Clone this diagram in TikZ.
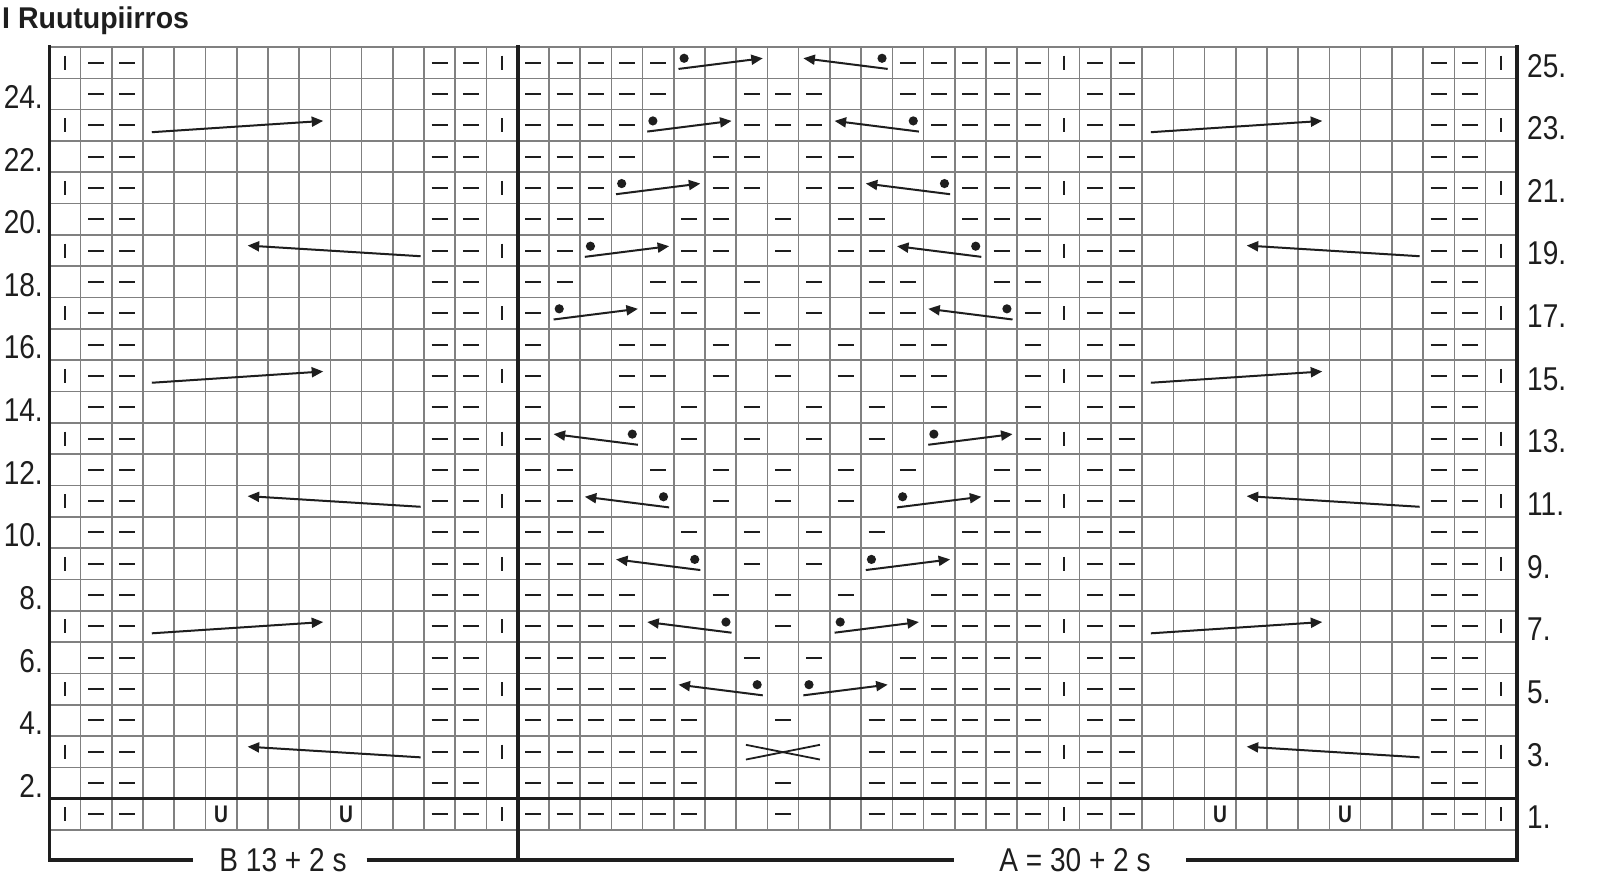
\documentclass[tikz,border=0pt]{standalone}
\usepackage{fontspec}
\setmainfont{Liberation Sans}
\usetikzlibrary{arrows.meta}
\definecolor{gridgray}{RGB}{128,128,128}
\definecolor{ink}{RGB}{30,30,30}
\newcommand{\narrowtxt}[2][0.85]{\scalebox{#1}[1]{#2}}
\begin{document}
\begin{tikzpicture}[x=1pt,y=-1pt,
  gridline/.style={draw=gridgray,line width=1.6pt},
  heavyline/.style={draw=ink,line width=3.6pt},
  dashsym/.style={draw=ink,line width=2pt},
  barsym/.style={draw=ink,line width=1.7pt},
  cablearrow/.style={draw=ink,line width=2pt,-{Triangle[length=11.5pt,width=10pt]}},
  crossline/.style={draw=ink,line width=1.8pt},
  knotdot/.style={fill=ink},
  numlabel/.style={font=\fontsize{33}{33}\selectfont,inner sep=0pt,text=ink},
  usym/.style={font=\fontsize{24}{24}\selectfont\bfseries,inner sep=0pt,text=ink},
]
\def\X{49.4}\def\W{31.22}\def\Y{47}\def\H{31.32}
\useasboundingbox (0,0) rectangle (1600,894);
\fill[white] (0,0) rectangle (1600,894);
% thin grid
\foreach \c in {0,...,47} \draw[gridline] ({\X+\c*\W},\Y) -- ({\X+\c*\W},{\Y+25*\H});
\foreach \r in {0,...,25} \draw[gridline] (\X,{\Y+\r*\H}) -- ({\X+47*\W},{\Y+\r*\H});
% title
\node[anchor=base west,inner sep=0pt,font=\fontsize{30}{30}\selectfont\bfseries,text=ink] (title) at (2,28) {\narrowtxt[0.95]{I Ruutupiirros}};
% bottom labels
\node[numlabel] (blab) at (283,860) {\narrowtxt{B 13 + 2 s}};
\node[numlabel] (alab) at (1075,860) {\narrowtxt{A = 30 + 2 s}};
% heavy frame lines
\coordinate (tl) at (\X,45);
\coordinate (bl) at (\X,860);
\coordinate (tm) at ({\X+15*\W},45);
\coordinate (bm) at ({\X+15*\W},860);
\coordinate (tr) at ({\X+47*\W},45);
\coordinate (br) at ({\X+47*\W},860);
\coordinate (sepl) at (\X,{\Y+24*\H});
\coordinate (sepr) at ({\X+47*\W},{\Y+24*\H});
\draw[heavyline] (tl) -- (bl) -- ([xshift=-26pt]blab.west);
\draw[heavyline] ([xshift=20pt]blab.east) -- (bm);
\draw[heavyline] (tm) -- (bm) -- ([xshift=-45pt]alab.west);
\draw[heavyline] (tr) -- (br) -- ([xshift=35pt]alab.east);
\draw[heavyline] (sepl) -- (sepr);
% row labels
\foreach \r in {2,4,...,24} \node[numlabel,anchor=east] (lab\r) at (43,{\Y+(25.5-\r)*\H+3}) {\narrowtxt{\r.}};
\foreach \r in {1,3,...,25} \node[numlabel,anchor=west] (lab\r) at (1527,{\Y+(25.5-\r)*\H+3}) {\narrowtxt{\r.}};
% side panel dashes and bars
\foreach \r in {1,...,25} {
  \foreach \c in {2,3,13,14,34,35,45,46}
    \draw[dashsym] ({\X+(\c-0.5)*\W-8},{round(\Y+(25.5-\r)*\H)}) -- ++(16,0);
}
\foreach \r in {1,3,...,25} {
  \foreach \c in {1,15,33,47}
    \draw[barsym] ({\X+(\c-0.5)*\W},{\Y+(25.5-\r)*\H-7}) -- ++(0,14);
}
% diamond dashes
\foreach \r/\cl in {
  25/{16,17,18,19,20,28,29,30,31,32},
  24/{16,17,18,19,20,23,24,25,28,29,30,31,32},
  23/{16,17,18,19,23,24,25,29,30,31,32},
  22/{16,17,18,19,22,23,25,26,29,30,31,32},
  21/{16,17,18,22,23,25,26,30,31,32},
  20/{16,17,18,21,22,24,26,27,30,31,32},
  19/{16,17,21,22,24,26,27,31,32},
  18/{16,17,20,21,23,25,27,28,31,32},
  17/{16,20,21,23,25,27,28,32},
  16/{16,19,20,22,24,26,28,29,32},
  15/{16,19,20,22,24,26,28,29,32},
  14/{16,19,21,23,25,27,29,32},
  13/{16,21,23,25,27,32},
  12/{16,17,20,22,24,26,28,31,32},
  11/{16,17,22,24,26,31,32},
  10/{16,17,18,21,23,25,27,30,31,32},
  9/{16,17,18,23,25,30,31,32},
  8/{16,17,18,19,22,24,26,29,30,31,32},
  7/{16,17,18,19,24,29,30,31,32},
  6/{16,17,18,19,20,23,25,28,29,30,31,32},
  5/{16,17,18,19,20,28,29,30,31,32},
  4/{16,17,18,19,20,21,24,27,28,29,30,31,32},
  3/{16,17,18,19,20,21,27,28,29,30,31,32},
  2/{16,17,18,19,20,21,24,27,28,29,30,31,32},
  1/{16,17,18,19,20,21,24,27,28,29,30,31,32}} {
  \foreach \c in \cl
    \draw[dashsym] ({\X+(\c-0.5)*\W-8},{round(\Y+(25.5-\r)*\H)}) -- ++(16,0);
}
% diamond cables
\foreach \r/\rc/\lc in {25/21/25,23/20/26,21/19/27,19/18/28,17/17/29,13/29/17,11/28/18,9/27/19,7/26/20,5/25/21} {
  \pgfmathsetmacro\rt{\Y+(25-\r)*\H}
  \coordinate (rs) at ({\X+(\rc-1+0.15)*\W},{\rt+0.70*\H});
  \coordinate (re) at ({\X+(\rc-1+2.85)*\W},{\rt+0.36*\H});
  \draw[cablearrow] (rs) -- (re);
  \fill[knotdot] ({\X+(\rc-1+0.33)*\W},{\rt+0.36*\H}) circle[radius=4.6pt];
  \coordinate (ls) at ({\X+(\lc-1+2.85)*\W},{\rt+0.70*\H});
  \coordinate (le) at ({\X+(\lc-1+0.15)*\W},{\rt+0.36*\H});
  \draw[cablearrow] (ls) -- (le);
  \fill[knotdot] ({\X+(\lc-1+2.67)*\W},{\rt+0.36*\H}) circle[radius=4.6pt];
}
% side panel arrows
\foreach \o in {0,32} {
  \foreach \r in {23,15,7} {
    \pgfmathsetmacro\rt{\Y+(25-\r)*\H}
    \coordinate (ss) at ({\X+(\o+3.28)*\W},{\rt+0.72*\H});
    \coordinate (se) at ({\X+(\o+8.77)*\W},{\rt+0.36*\H});
    \draw[cablearrow] (ss) -- (se);
  }
  \foreach \r in {19,11,3} {
    \pgfmathsetmacro\rt{\Y+(25-\r)*\H}
    \coordinate (ss) at ({\X+(\o+11.89)*\W},{\rt+0.68*\H});
    \coordinate (se) at ({\X+(\o+6.35)*\W},{\rt+0.34*\H});
    \draw[cablearrow] (ss) -- (se);
  }
}
% cross in row 3
\pgfmathsetmacro\rt{\Y+22*\H}
\coordinate (xa) at ({\X+22.31*\W},{\rt+0.28*\H});
\coordinate (xb) at ({\X+24.68*\W},{\rt+0.75*\H});
\coordinate (xc) at ({\X+22.31*\W},{\rt+0.75*\H});
\coordinate (xd) at ({\X+24.68*\W},{\rt+0.28*\H});
\draw[crossline] (xa) -- (xb);
\draw[crossline] (xc) -- (xd);
% U symbols in row 1
\foreach \c in {6,10,38,42}
  \node[usym] (u\c) at ({\X+(\c-0.5)*\W},{\Y+24.5*\H}) {\narrowtxt[0.8]{U}};
\end{tikzpicture}
\end{document}
